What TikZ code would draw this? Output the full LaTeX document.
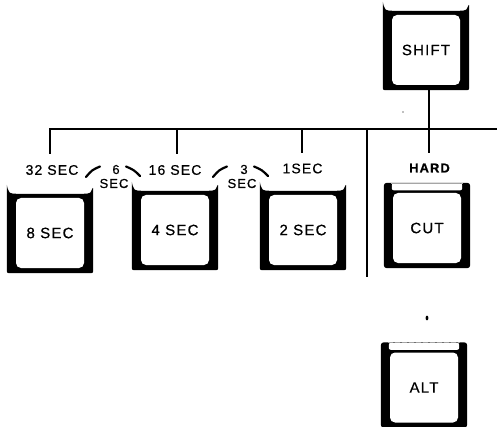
\documentclass[tikz,border=0pt]{standalone}
\usepackage{fontspec}
\setmainfont{Liberation Sans}[LetterSpace=8,FakeBold=0.6]
\usetikzlibrary{calc,backgrounds}
\newcommand\kf{\fontsize{14pt}{16pt}\selectfont}
\newcommand\bigkf{\fontsize{15pt}{17pt}\selectfont}
\newcommand\smallkf{\fontsize{13pt}{15pt}\selectfont}
\newcommand\hornkey[3]{%
  \node[keyface] (#1) at (#2) {#3};
  \begin{scope}[on background layer]
    \fill[black,rounded corners=2pt] ($(#1.north west)+(-9pt,11pt)$) -- ($(#1.south west)+(-9pt,-5pt)$)
      -- ($(#1.south east)+(9pt,-5pt)$) -- ($(#1.north east)+(9pt,11pt)$)
      .. controls ($(#1.north east)+(6pt,4.5pt)$) .. ($(#1.north east)+(1pt,4pt)$)
      -- ($(#1.north west)+(-1pt,4pt)$)
      .. controls ($(#1.north west)+(-6pt,4.5pt)$) .. ($(#1.north west)+(-9pt,11pt)$) -- cycle;
  \end{scope}}
\newcommand\flatkey[3]{%
  \node[keyface] (#1) at (#2) {#3};
  \begin{scope}[on background layer]
    \fill[black,rounded corners=3pt] ($(#1.north west)+(-9pt,10pt)$) rectangle ($(#1.south east)+(9pt,-5pt)$);
    \fill[white,rounded corners=2pt] ($(#1.north west)+(-1pt,9.5pt)$) rectangle ($(#1.north east)+(1pt,2.5pt)$);
  \end{scope}
  \draw[gray!70,dash pattern=on 5pt off 2pt,line width=0.8pt] ($(#1.north west)+(-2pt,9.5pt)$) -- ($(#1.north east)+(2pt,9.5pt)$);}
\begin{document}
\begin{tikzpicture}[x=1pt,y=-1pt,
  keyface/.style={fill=white,rounded corners=5pt,minimum width=68pt,minimum height=70pt,inner sep=0pt,font=\bigkf},
  lbl/.style={inner sep=0pt,font=\kf},
  slbl/.style={inner sep=0pt,font=\smallkf},
  wire/.style={line width=2.6pt},
  arcline/.style={line width=2.2pt,line cap=round}]
\useasboundingbox (0,0) rectangle (497,427);
% keys
\hornkey{shift}{426,50}{SHIFT}
\hornkey{k8}{50,233}{\raisebox{-2pt}{8 SEC}}
\hornkey{k4}{175,230}{\raisebox{-2pt}{4 SEC}}
\hornkey{k2}{303,230}{\raisebox{-1.5pt}{2 SEC}}
\flatkey{cut}{427,228}{CUT}
\flatkey{alt}{424,387.5}{ALT}
% labels
\node[lbl] (l32) at (52,170) {32 SEC};
\node[slbl] (l6) at (116,169.5) {6};
\node[slbl] (l6s) at (114,183.5) {SEC};
\node[lbl] (l16) at (175,170) {16 SEC};
\node[slbl] (l3) at (244,169.5) {3};
\node[slbl] (l3s) at (242,183.5) {SEC};
\node[lbl] (l1) at (302.5,168.5) {1SEC};
\node[inner sep=0pt,font=\smallkf\bfseries] (hard) at (429.5,168) {HARD};
% wiring
\coordinate (busL) at (50,129);
\coordinate (busR) at (497,129);
\coordinate (d32) at (50,154);
\coordinate (d16) at (177,154);
\coordinate (d1) at (302,153);
\coordinate (dh) at (429,153);
\coordinate (divT) at (367,129);
\coordinate (divB) at (367,277);
\draw[wire] (d32) -- (d32 |- busL) -- (busR);
\draw[wire] (d16 |- busL) -- (d16);
\draw[wire] (d1 |- busL) -- (d1);
\draw[wire] (shift.south -| dh) -- (dh);
\draw[line width=2.4pt] (divT) -- (divB);
% arcs around the intermediate times
\draw[arcline] (86,177) .. controls (92,170) .. (100,166.5);
\draw[arcline] (126,166.5) .. controls (134,170) .. (140,176);
\draw[arcline] (213,177) .. controls (219,170) .. (227,166.5);
\draw[arcline] (254,166.5) .. controls (262,170) .. (268,176);
% stray marks
\fill (427,318) ellipse [x radius=1.4pt, y radius=2.4pt];
\fill[gray] (403,112) circle [radius=0.8pt];
\end{tikzpicture}
\end{document}
